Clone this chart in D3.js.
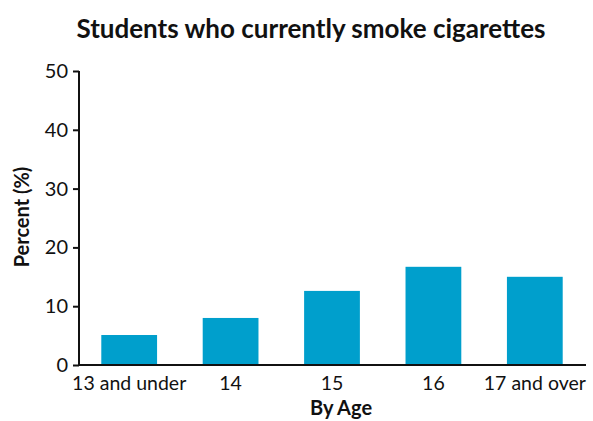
<!DOCTYPE html>
<html><head><meta charset="utf-8">
<script src="https://cdn.jsdelivr.net/npm/d3@7"></script>
<style>body{margin:0;background:#fff}</style>
</head><body>
<script>
const categories = ["13 and under","14","15","16","17 and over"];
const values = [5.1, 8.0, 12.6, 16.7, 15.0];
const yTicks = [0,10,20,30,40,50];

const W=593,H=421;
const svg=d3.select("body").append("svg").attr("width",W).attr("height",H);
const font="Lato, 'Noto Sans', sans-serif";
const x=d3.scaleBand().domain(categories).range([80,584]).paddingInner(0.45).paddingOuter(0.21);
const y=d3.scaleLinear().domain([0,50]).range([365,71]);

svg.selectAll("rect.bar").data(values).join("rect").attr("class","bar")
 .attr("x",(d,i)=>x(categories[i])).attr("width",x.bandwidth())
 .attr("y",d=>y(d)).attr("height",d=>y(0)-y(d)).attr("fill","#009fcc");

const ya=svg.append("g").attr("transform","translate(79,0)")
 .call(d3.axisLeft(y).tickValues(yTicks).tickSize(6).tickPadding(5));
ya.select(".domain").attr("stroke","#111").attr("stroke-width",2).attr("d","M0,"+(y(0)+1)+"V"+y(50));
ya.selectAll(".tick line").attr("stroke","#111").attr("stroke-width",2);
ya.selectAll("text").attr("font-family",font).attr("font-size",20).attr("fill","#111");

const xa=svg.append("g").attr("transform","translate(0,365)")
 .call(d3.axisBottom(x).tickSize(0).tickPadding(11));
xa.select(".domain").attr("stroke","#111").attr("stroke-width",2).attr("d","M78,0H586");
xa.selectAll("text").attr("font-family",font).attr("font-size",19.5).attr("fill","#111");

svg.append("text").attr("x",311).attr("y",38).attr("text-anchor","middle")
 .attr("font-family",font).attr("font-weight","bold").attr("font-size",26).attr("fill","#111")
 .text("Students who currently smoke cigarettes");
svg.append("text").attr("x",341).attr("y",415).attr("text-anchor","middle")
 .attr("font-family",font).attr("font-weight","bold").attr("font-size",20).attr("fill","#111")
 .text("By Age");
svg.append("text").attr("transform","translate(29,217) rotate(-90)").attr("text-anchor","middle")
 .attr("font-family",font).attr("font-weight","bold").attr("font-size",20).attr("fill","#111")
 .text("Percent (%)");
</script>
</body></html>
